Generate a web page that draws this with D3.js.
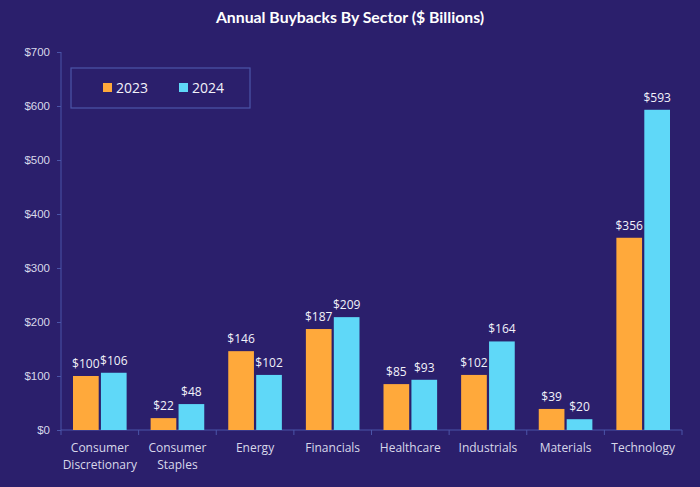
<!DOCTYPE html>
<html><head><meta charset="utf-8">
<script src="https://cdn.jsdelivr.net/npm/d3@7/dist/d3.min.js"></script>
<style>
html,body{margin:0;padding:0;background:#2b1f6c;}
svg{display:block;font-family:"Open Sans","Lato",sans-serif;}
</style></head>
<body><div id="chart"></div>
<script>
const categories = [["Consumer","Discretionary"],["Consumer","Staples"],["Energy"],["Financials"],["Healthcare"],["Industrials"],["Materials"],["Technology"]];
const seriesNames = ["2023","2024"];
const values2023 = [100,22,146,187,85,102,39,356];
const values2024 = [106,48,102,209,93,164,20,593];
const yTicks = [0,100,200,300,400,500,600,700];
const colors = ["#ffa93b","#5fd8f8"];

const W=700,H=487;
const svg=d3.select("#chart").append("svg").attr("width",W).attr("height",H);
svg.append("rect").attr("width",W).attr("height",H).attr("fill","#2b1f6c");

const x=d3.scaleBand().domain(categories.map((c,i)=>i)).range([61,682]).paddingInner(0).paddingOuter(0);
const x1=d3.scaleBand().domain(seriesNames).range([12,x.bandwidth()-12]).paddingInner(0.08);
const y=d3.scaleLinear().domain([0,700]).range([430,52]);

svg.append("text").attr("x",350).attr("y",23).attr("text-anchor","middle")
  .attr("fill","#ffffff").attr("font-weight","bold").attr("font-size",15.8)
  .attr("font-family","Lato, sans-serif").text("Annual Buybacks By Sector ($ Billions)");

const axisColor="#4b55a8";
const yAxis=svg.append("g").attr("transform","translate(61,0)")
  .call(d3.axisLeft(y).tickValues(yTicks).tickSize(4).tickFormat(d=>"$"+d));
yAxis.selectAll("path,line").attr("stroke",axisColor);
yAxis.selectAll("text").attr("fill","#d8d8ea").attr("font-size",11.5).attr("dx",-4);
yAxis.select(".domain").attr("d","M0,430V52");

const xAxis=svg.append("g").attr("transform","translate(0,430)")
  .call(d3.axisBottom(x).tickSize(0).tickFormat(""));
xAxis.selectAll("path").attr("stroke",axisColor);
xAxis.select(".domain").attr("d","M61,0H682");
const tickPos=d3.range(categories.length+1).map(i=>61+i*x.bandwidth());
svg.append("g").selectAll("line").data(tickPos).join("line")
  .attr("x1",d=>d).attr("x2",d=>d).attr("y1",430).attr("y2",435).attr("stroke",axisColor);

categories.forEach((c,i)=>{
  const t=svg.append("text").attr("text-anchor","middle").attr("fill","#d8d8ea")
    .attr("font-size",12).attr("x",x(i)+x.bandwidth()/2).attr("y",452);
  c.forEach((line,j)=>t.append("tspan").attr("x",x(i)+x.bandwidth()/2).attr("dy",j?17:0).text(line));
});

const data=categories.map((c,i)=>({i,vals:[values2023[i],values2024[i]]}));
const g=svg.append("g").selectAll("g").data(data).join("g").attr("transform",d=>`translate(${x(d.i)},0)`);
g.selectAll("rect").data(d=>d.vals.map((v,k)=>({v,k}))).join("rect")
  .attr("x",d=>x1(seriesNames[d.k])).attr("width",x1.bandwidth())
  .attr("y",d=>y(d.v)).attr("height",d=>y(0)-y(d.v)).attr("fill",d=>colors[d.k]);
g.selectAll("text").data(d=>d.vals.map((v,k)=>({v,k}))).join("text")
  .attr("x",d=>x1(seriesNames[d.k])+x1.bandwidth()/2).attr("y",d=>y(d.v)-8)
  .attr("text-anchor","middle").attr("fill","#f2f2fa").attr("font-size",12).text(d=>"$"+d.v);

const lg=svg.append("g");
lg.append("rect").attr("x",71).attr("y",68).attr("width",179).attr("height",40)
  .attr("fill","none").attr("stroke","#4b55a8").attr("stroke-width",1.2);
const lx=[103,179];
seriesNames.forEach((s,k)=>{
  lg.append("rect").attr("x",lx[k]).attr("y",83).attr("width",9).attr("height",9).attr("fill",colors[k]);
  lg.append("text").attr("x",lx[k]+13).attr("y",93).attr("fill","#f2f2fa").attr("font-size",14).text(s);
});
</script></body></html>
